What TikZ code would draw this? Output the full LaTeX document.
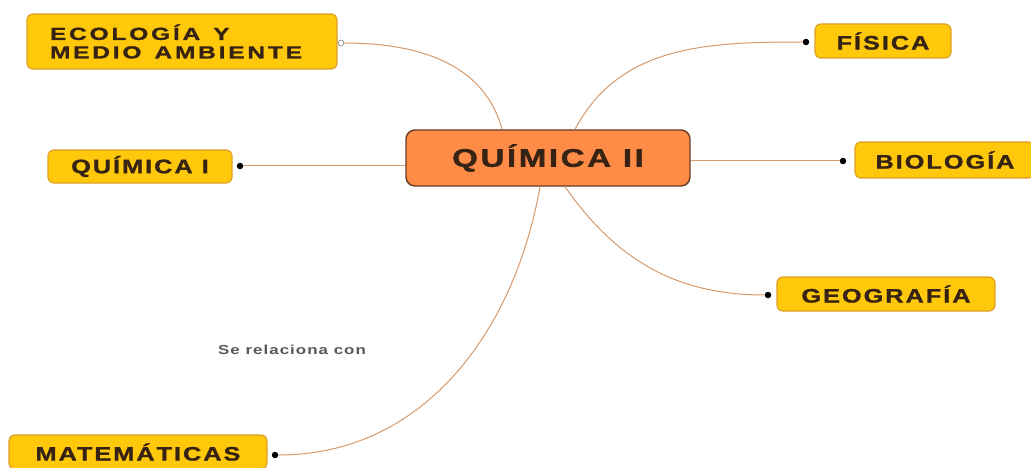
\documentclass[tikz,border=0pt]{standalone}
\usepackage{fontspec}
\usetikzlibrary{calc}
\newfontfamily\mapfont[FakeStretch=1.3,LetterSpace=10,FakeBold=1.2]{Liberation Sans}
\newfontfamily\ecofont[FakeStretch=1.4,LetterSpace=16,FakeBold=1.2]{Liberation Sans}
\newfontfamily\notefont[FakeStretch=1.3,LetterSpace=8]{Liberation Sans}
\newcommand\wgap{\hspace{13pt}}
\definecolor{boxfill}{RGB}{255,200,10}
\definecolor{boxline}{RGB}{222,160,40}
\definecolor{mainfill}{RGB}{255,140,70}
\definecolor{mainline}{RGB}{105,60,35}
\definecolor{inkbrown}{RGB}{55,35,20}
\definecolor{linkcol}{RGB}{215,155,110}
\tikzset{
  topic/.style={draw=boxline, line width=1.2pt, fill=boxfill, rounded corners=6pt,
    text=inkbrown, font=\mapfont\bfseries\fontsize{19.5}{20}\selectfont,
    minimum height=34pt, inner sep=0pt},
  maintopic/.style={draw=mainline, line width=1.4pt, fill=mainfill, rounded corners=9pt,
    text=inkbrown, font=\mapfont\bfseries\fontsize{25.5}{27}\selectfont,
    minimum width=284pt, minimum height=56pt, inner sep=0pt},
  dot/.style={circle, fill=black, inner sep=0pt, minimum size=6.5pt},
  opendot/.style={circle, draw=gray, fill=white, line width=0.6pt, inner sep=0pt, minimum size=6pt},
  link/.style={draw=linkcol, line width=1pt}
}
\begin{document}
\begin{tikzpicture}[x=1pt,y=1pt]
  \useasboundingbox (0,0) rectangle (1031,-468);
  \fill[white] (0,0) rectangle (1031,-468);
  % central topic
  \node[maintopic] (q2) at (548,-158) {QUÍMICA II};
  % subtopics
  \node[topic, minimum width=310pt, minimum height=55pt, text width=264pt, align=left,
    font=\ecofont\bfseries\fontsize{17.5}{18.5}\selectfont]
    (eco) at (182,-41.5) {ECOLOGÍA\wgap Y\\MEDIO\wgap AMBIENTE};
  \node[topic, minimum width=184pt, minimum height=33pt] (qi) at (140,-166.5) {QUÍMICA I};
  \node[topic, minimum width=136pt] (fis) at (883,-41) {FÍSICA};
  \node[topic, minimum width=180pt, minimum height=36pt] (bio) at (945,-160) {BIOLOGÍA};
  \node[topic, minimum width=218pt] (geo) at (886,-294) {GEOGRAFÍA};
  \node[topic, minimum width=258pt] (mat) at (138,-452) {MATEMÁTICAS};
  \node[text=gray!70!black, font=\notefont\bfseries\fontsize{13}{14}\selectfont]
    (rel) at (292,-350) {Se relaciona con};
  % end points
  \node[opendot] (ecodot) at (341,-43) {};
  \node[dot] (qidot) at (240,-166) {};
  \node[dot] (fisdot) at (806,-42) {};
  \node[dot] (biodot) at (843,-161) {};
  \node[dot] (geodot) at (768,-295) {};
  \node[dot] (matdot) at (275,-455) {};
  % connectors
  \draw[link] ($(q2.north)+(-46,0)$) to[out=105,in=0] (ecodot);
  \draw[link] ($(q2.north)+(27,0)$) to[out=62,in=180] (fisdot);
  \draw[link] (qidot) -- (qidot -| q2.west);
  \draw[link] (q2.east |- biodot) -- (biodot);
  \draw[link] ($(q2.south)+(17,0)$) to[out=-55,in=180] (geodot);
  \draw[link] ($(q2.south)+(-8,0)$) to[out=-100,in=0] (matdot);
\end{tikzpicture}
\end{document}
